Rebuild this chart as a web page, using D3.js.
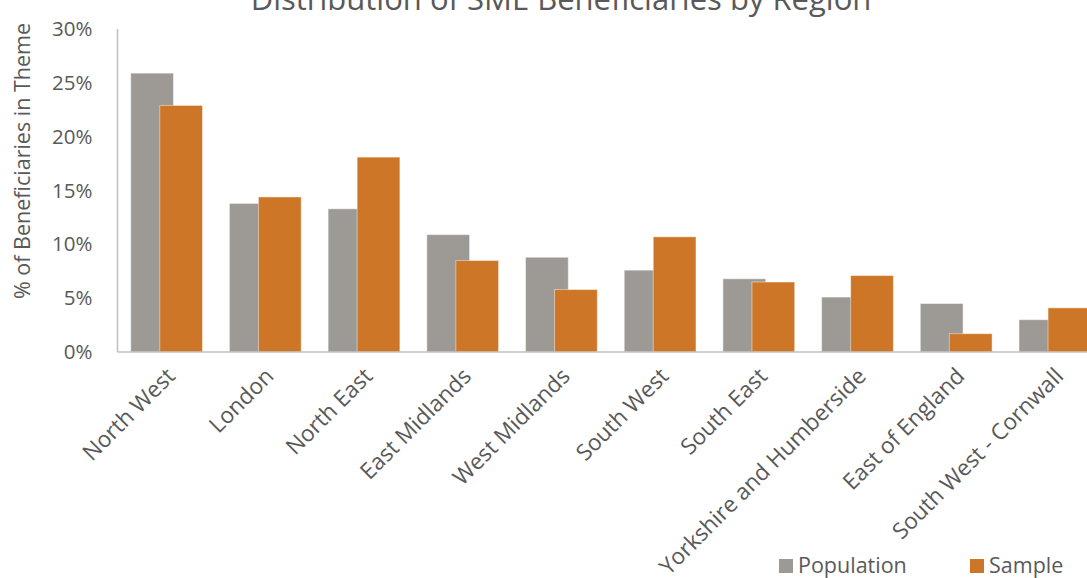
<!DOCTYPE html>
<html>
<head>
<meta charset="utf-8">
<script src="https://cdn.jsdelivr.net/npm/d3@7"></script>
<style>
  html, body { margin: 0; padding: 0; background: #ffffff; overflow: hidden; }
  svg { display: block; font-family: "Open Sans", "Noto Sans", sans-serif; }
</style>
</head>
<body>
<svg id="chart" width="1087" height="578"></svg>
<script>
const categories = ["North West", "London", "North East", "East Midlands", "West Midlands",
  "South West", "South East", "Yorkshire and Humberside", "East of England", "South West - Cornwall"];
const population = [0.259, 0.138, 0.133, 0.109, 0.088, 0.076, 0.068, 0.051, 0.045, 0.030];
const sample = [0.229, 0.144, 0.181, 0.085, 0.058, 0.107, 0.065, 0.071, 0.017, 0.041];
const yTicks = [0, 0.05, 0.10, 0.15, 0.20, 0.25, 0.30];
const seriesNames = ["Population", "Sample"];
const colors = ["#9d9995", "#cd7627"];

const svg = d3.select("#chart");
const textColor = "#595959";
const axisColor = "#c0c0c0";

const x0 = 117.5, plotW = 987;
const y = d3.scaleLinear().domain([0, 0.30]).range([352, 29]);
const x = d3.scaleBand().domain(categories).range([x0, x0 + plotW]).padding(0);
const bw = x.bandwidth();
const barW = bw * 0.433;
const grayOff = bw * 0.134;
const orangeOff = bw * 0.428;

// Title
svg.append("text")
  .attr("x", 561).attr("y", 10)
  .attr("text-anchor", "middle")
  .attr("font-size", 31)
  .attr("fill", textColor)
  .text("Distribution of SME Beneficiaries by Region");

// Y axis title
svg.append("text")
  .attr("transform", "translate(30,161) rotate(-90)")
  .attr("text-anchor", "middle")
  .attr("font-size", 21.5)
  .attr("fill", textColor)
  .text("% of Beneficiaries in Theme");

// Y axis
const yAxis = d3.axisLeft(y).tickValues(yTicks).tickSize(0).tickPadding(0)
  .tickFormat(d3.format(".0%"));
const yg = svg.append("g").attr("transform", `translate(${x0},0)`).call(yAxis);
yg.select(".domain").remove();
yg.selectAll("text")
  .attr("x", -25)
  .attr("font-size", 20.5)
  .attr("font-family", "Open Sans")
  .attr("fill", textColor);

svg.append("line")
  .attr("x1", x0).attr("x2", x0)
  .attr("y1", y(0.30)).attr("y2", y(0))
  .attr("stroke", axisColor).attr("stroke-width", 1.5);

// Bars
const gBars = svg.append("g");
gBars.selectAll("rect.pop").data(categories).join("rect")
  .attr("class", "pop")
  .attr("x", (d) => x(d) + grayOff)
  .attr("y", (d, i) => y(population[i]))
  .attr("width", barW)
  .attr("height", (d, i) => y(0) - y(population[i]))
  .attr("fill", colors[0])
  .attr("stroke", "#ffffff").attr("stroke-opacity", 0.45).attr("stroke-width", 1);

gBars.selectAll("rect.smp").data(categories).join("rect")
  .attr("class", "smp")
  .attr("x", (d) => x(d) + orangeOff)
  .attr("y", (d, i) => y(sample[i]))
  .attr("width", barW)
  .attr("height", (d, i) => y(0) - y(sample[i]))
  .attr("fill", colors[1])
  .attr("stroke", "#ffffff").attr("stroke-opacity", 0.45).attr("stroke-width", 1);

// Baseline
svg.append("line")
  .attr("x1", x0).attr("x2", x0 + plotW)
  .attr("y1", y(0)).attr("y2", y(0))
  .attr("stroke", axisColor).attr("stroke-width", 1.5);

// X labels
svg.append("g").selectAll("text").data(categories).join("text")
  .attr("transform", (d) => `translate(${x(d) + bw / 2 + 4},${372}) rotate(-45)`)
  .attr("text-anchor", "end")
  .attr("dy", "0.35em")
  .attr("font-size", 22.5)
  .attr("fill", textColor)
  .text((d) => d);

// Legend
const legendX = [779, 970];
const lg = svg.append("g");
seriesNames.forEach((name, i) => {
  lg.append("rect")
    .attr("x", legendX[i]).attr("y", 559)
    .attr("width", 14).attr("height", 14)
    .attr("fill", colors[i]);
  lg.append("text")
    .attr("x", legendX[i] + 19).attr("y", 573)
    .attr("font-size", 21.5)
    .attr("fill", textColor)
    .text(name);
});
</script>
</body>
</html>
